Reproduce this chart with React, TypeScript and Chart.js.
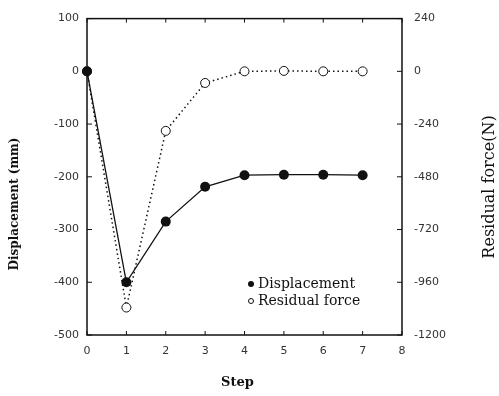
import React, { useEffect, useRef } from 'react';
import { Chart, registerables } from 'chart.js';

Chart.register(...registerables);

const steps = [0, 1, 2, 3, 4, 5, 6, 7];
const displacement = [0, -400, -285, -219, -197, -196, -196, -197];
const residualForce = [0, -1075, -271, -53, 0, 2, 0, 0];
const xTickValues = [0, 1, 2, 3, 4, 5, 6, 7, 8];
const leftTickValues = [100, 0, -100, -200, -300, -400, -500];
const rightTickValues = [240, 0, -240, -480, -720, -960, -1200];
const xTitle = 'Step';
const leftTitle = 'Displacement (mm)';
const rightTitle = 'Residual force(N)';

const tickFont = { family: 'DejaVu Sans', size: 11 };
const serif = '"DejaVu Serif", "Liberation Serif", serif';

const framePlugin = {
  id: 'frame',
  beforeDatasetsDraw(chart: any) {
    const { ctx, chartArea, scales } = chart;
    const { left, right, top, bottom } = chartArea;
    ctx.save();
    ctx.strokeStyle = '#111';
    ctx.lineWidth = 1.5;
    ctx.strokeRect(left, top, right - left, bottom - top);
    ctx.lineWidth = 1;
    ctx.beginPath();
    scales.y.ticks.forEach((t: any) => {
      const py = scales.y.getPixelForValue(t.value);
      ctx.moveTo(left, py);
      ctx.lineTo(left + 5, py);
    });
    scales.y2.ticks.forEach((t: any) => {
      const py = scales.y2.getPixelForValue(t.value);
      ctx.moveTo(right, py);
      ctx.lineTo(right - 5, py);
    });
    scales.x.ticks.forEach((t: any) => {
      const px = scales.x.getPixelForValue(t.value);
      ctx.moveTo(px, top);
      ctx.lineTo(px, top + 4);
      ctx.moveTo(px, bottom);
      ctx.lineTo(px, bottom - 4);
    });
    ctx.stroke();
    ctx.restore();
  },
  afterDraw(chart: any) {
    const { ctx, chartArea } = chart;
    const { left, right } = chartArea;
    ctx.save();
    ctx.fillStyle = '#111';
    ctx.textAlign = 'center';
    ctx.textBaseline = 'middle';
    // x title
    ctx.font = `bold 13px ${serif}`;
    ctx.fillText(xTitle, (left + right) / 2 - 7, 383);
    // left title
    ctx.save();
    ctx.translate(15, 204);
    ctx.rotate(-Math.PI / 2);
    ctx.font = `bold 12px ${serif}`;
    ctx.fillText(leftTitle, 0, 0);
    ctx.restore();
    // right title
    ctx.save();
    ctx.translate(490, 187);
    ctx.rotate(-Math.PI / 2);
    ctx.font = `16px ${serif}`;
    ctx.fillText(rightTitle, 0, 0);
    ctx.restore();
    // legend
    const ds = chart.data.datasets;
    ctx.font = `14px ${serif}`;
    ctx.textAlign = 'left';
    ctx.beginPath();
    ctx.arc(251, 284, 3, 0, Math.PI * 2);
    ctx.fill();
    ctx.fillText(ds[0].label, 258, 284);
    ctx.beginPath();
    ctx.arc(251, 301, 2.5, 0, Math.PI * 2);
    ctx.lineWidth = 1;
    ctx.strokeStyle = '#111';
    ctx.stroke();
    ctx.fillText(ds[1].label, 258, 301);
    ctx.restore();
  },
};

export default function App() {
  const ref = useRef<HTMLCanvasElement | null>(null);
  useEffect(() => {
    if (!ref.current) return;
    const chart = new Chart(ref.current, {
      type: 'line',
      data: {
        datasets: [
          {
            label: 'Displacement',
            data: steps.map((s, i) => ({ x: s, y: displacement[i] })),
            yAxisID: 'y',
            borderColor: '#111',
            backgroundColor: '#111',
            borderWidth: 1.3,
            pointRadius: 5,
            pointBorderWidth: 0,
            pointBackgroundColor: '#111',
            clip: false as any,
          },
          {
            label: 'Residual force',
            data: steps.map((s, i) => ({ x: s, y: residualForce[i] })),
            yAxisID: 'y2',
            borderColor: '#111',
            borderWidth: 1.5,
            borderDash: [1.5, 3],
            pointRadius: 4.5,
            pointBorderWidth: 1,
            pointBorderColor: '#111',
            pointBackgroundColor: '#fff',
            clip: false as any,
          },
        ],
      },
      options: {
        animation: false,
        responsive: false,
        devicePixelRatio: 1,
        layout: { padding: { top: 11, left: 0, right: 0, bottom: 0 } },
        plugins: { legend: { display: false }, tooltip: { enabled: false } },
        scales: {
          x: {
            type: 'linear',
            min: 0,
            max: 8,
            afterBuildTicks: (s: any) => { s.ticks = xTickValues.map((v) => ({ value: v })); },
            afterFit: (s: any) => { s.height = 61; },
            grid: { display: false, drawTicks: false },
            border: { display: false },
            ticks: { font: tickFont, color: '#333', padding: 10, maxRotation: 0, callback: (v: any) => String(v) },
          },
          y: {
            type: 'linear',
            position: 'left',
            min: -500,
            max: 100,
            afterBuildTicks: (s: any) => { s.ticks = leftTickValues.map((v) => ({ value: v })); },
            afterFit: (s: any) => { s.width = 87; },
            grid: { display: false, drawTicks: false },
            border: { display: false },
            ticks: { font: tickFont, color: '#333', padding: 8, callback: (v: any) => String(v) },
          },
          y2: {
            type: 'linear',
            position: 'right',
            min: -1200,
            max: 240,
            afterBuildTicks: (s: any) => { s.ticks = rightTickValues.map((v) => ({ value: v })); },
            afterFit: (s: any) => { s.width = 97; },
            grid: { display: false, drawTicks: false },
            border: { display: false },
            ticks: { font: tickFont, color: '#333', padding: 12, callback: (v: any) => String(v) },
          },
        },
      },
      plugins: [framePlugin],
    });
    return () => chart.destroy();
  }, []);
  return (
    <div style={{ position: 'fixed', left: 0, top: 0, width: 499, height: 396, background: '#fff' }}>
      <canvas ref={ref} width={499} height={396} />
    </div>
  );
}
